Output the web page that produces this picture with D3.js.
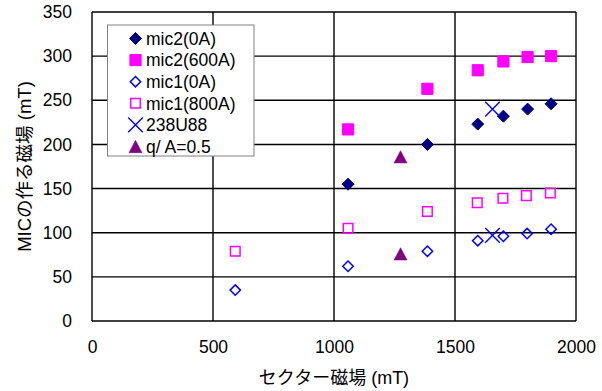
<!DOCTYPE html>
<html>
<head>
<meta charset="utf-8">
<script src="https://cdn.jsdelivr.net/npm/d3@7"></script>
<style>
  body { margin: 0; background: #fff; }
  text { font-family: "Liberation Sans", Arial, "Noto Sans CJK JP", sans-serif; fill: #000; }
</style>
</head>
<body>
<div id="chart"></div>
<script>
// data
const xTicks = [0, 500, 1000, 1500, 2000]
const yTicks = [0, 50, 100, 150, 200, 250, 300, 350]

const mic2_0A_x = [1058, 1386, 1594, 1700, 1800, 1897]
const mic2_0A_y = [155, 200, 223, 232, 240, 246]
const mic2_600A_x = [1058, 1386, 1594, 1700, 1800, 1897]
const mic2_600A_y = [217, 263, 284, 294, 299, 300]
const mic1_0A_x = [592, 1058, 1386, 1594, 1700, 1798, 1897]
const mic1_0A_y = [35, 62, 79, 91, 96, 99, 104]
const mic1_800A_x = [592, 1058, 1386, 1592, 1698, 1795, 1894]
const mic1_800A_y = [79, 105, 124, 134, 139, 142, 145]
const u238_x = [1655, 1655]
const u238_y = [240, 97]
const qa_x = [1275, 1275]
const qa_y = [186, 76]

const seriesNames = ['mic2(0A)', 'mic2(600A)', 'mic1(0A)', 'mic1(800A)', '238U88', 'q/ A=0.5']

const W = 602, H = 391
const margin = {top: 12, right: 26, bottom: 70, left: 92}
const width = W - margin.left - margin.right
const height = H - margin.top - margin.bottom

const svg = d3.select('#chart').append('svg')
  .attr('width', W).attr('height', H)

const x = d3.scaleLinear().domain([0, 2000]).range([margin.left, margin.left + width])
const y = d3.scaleLinear().domain([0, 350]).range([margin.top + height, margin.top])

// grid
svg.append('g').selectAll('line').data(xTicks).join('line')
  .attr('x1', d => x(d)).attr('x2', d => x(d))
  .attr('y1', y(0)).attr('y2', y(350))
  .attr('stroke', '#000').attr('stroke-width', 1.4)
svg.append('g').selectAll('line').data(yTicks).join('line')
  .attr('x1', x(0)).attr('x2', x(2000))
  .attr('y1', d => y(d)).attr('y2', d => y(d))
  .attr('stroke', '#000').attr('stroke-width', 1.4)

// axes (labels only, the grid draws the frame)
const xAxis = svg.append('g').attr('transform', `translate(0,${y(0)})`)
  .call(d3.axisBottom(x).tickValues(xTicks).tickFormat(d3.format('d')).tickSize(0).tickPadding(20))
xAxis.select('.domain').remove()
xAxis.selectAll('text').attr('font-size', '17.5px')

const yAxis = svg.append('g').attr('transform', `translate(${x(0)},0)`)
  .call(d3.axisLeft(y).tickValues(yTicks).tickFormat(d3.format('d')).tickSize(0).tickPadding(20))
yAxis.select('.domain').remove()
yAxis.selectAll('text').attr('font-size', '17.5px')

svg.append('text')
  .attr('x', x(1000)).attr('y', 384)
  .attr('text-anchor', 'middle').attr('font-size', '18px')
  .text('セクター磁場 (mT)')

svg.append('text')
  .attr('transform', `translate(31,${(y(0) + y(350)) / 2}) rotate(-90)`)
  .attr('text-anchor', 'middle').attr('font-size', '18.5px')
  .text('MICの作る磁場 (mT)')

// marker shapes
const diamond = s => `M0,${-s}L${s},0L0,${s}L${-s},0Z`
const square = s => `M${-s},${-s}H${s}V${s}H${-s}Z`
const cross = s => `M${-s},${-s}L${s},${s}M${-s},${s}L${s},${-s}`
const tri = (w, h) => `M0,${-h / 2}L${w / 2},${h / 2}L${-w / 2},${h / 2}Z`

const styles = [
  {path: diamond(6), fill: '#000080', stroke: '#000080', sw: 1},
  {path: square(5.6), fill: '#FF00FF', stroke: '#FF00FF', sw: 1},
  {path: diamond(5.2), fill: 'none', stroke: '#0000FF', sw: 1.5},
  {path: square(4.8), fill: 'none', stroke: '#FF00FF', sw: 1.5},
  {path: cross(7.3), fill: 'none', stroke: '#0000FF', sw: 1.4},
  {path: tri(13, 12.3), fill: '#800080', stroke: '#800080', sw: 0.5}
]

const series = [
  [mic2_0A_x, mic2_0A_y],
  [mic2_600A_x, mic2_600A_y],
  [mic1_0A_x, mic1_0A_y],
  [mic1_800A_x, mic1_800A_y],
  [u238_x, u238_y],
  [qa_x, qa_y]
]

series.forEach(([xs, ys], i) => {
  const st = styles[i]
  svg.append('g').selectAll('path').data(xs.map((v, j) => [v, ys[j]])).join('path')
    .attr('d', st.path)
    .attr('transform', d => `translate(${x(d[0])},${y(d[1])})`)
    .attr('fill', st.fill).attr('stroke', st.stroke).attr('stroke-width', st.sw)
})

// legend
const lg = svg.append('g')
lg.append('rect')
  .attr('x', 107.5).attr('y', 25).attr('width', 146.5).attr('height', 131)
  .attr('fill', '#fff').attr('stroke', '#808080').attr('stroke-width', 1)
seriesNames.forEach((name, i) => {
  const st = styles[i]
  const cy = 38.5 + i * 21.6
  lg.append('path').attr('d', st.path)
    .attr('transform', `translate(135.5,${cy})`)
    .attr('fill', st.fill).attr('stroke', st.stroke).attr('stroke-width', st.sw)
  lg.append('text').attr('x', 146).attr('y', cy).attr('dy', '0.36em')
    .attr('font-size', '17.5px')
    .text(name)
})
</script>
</body>
</html>
